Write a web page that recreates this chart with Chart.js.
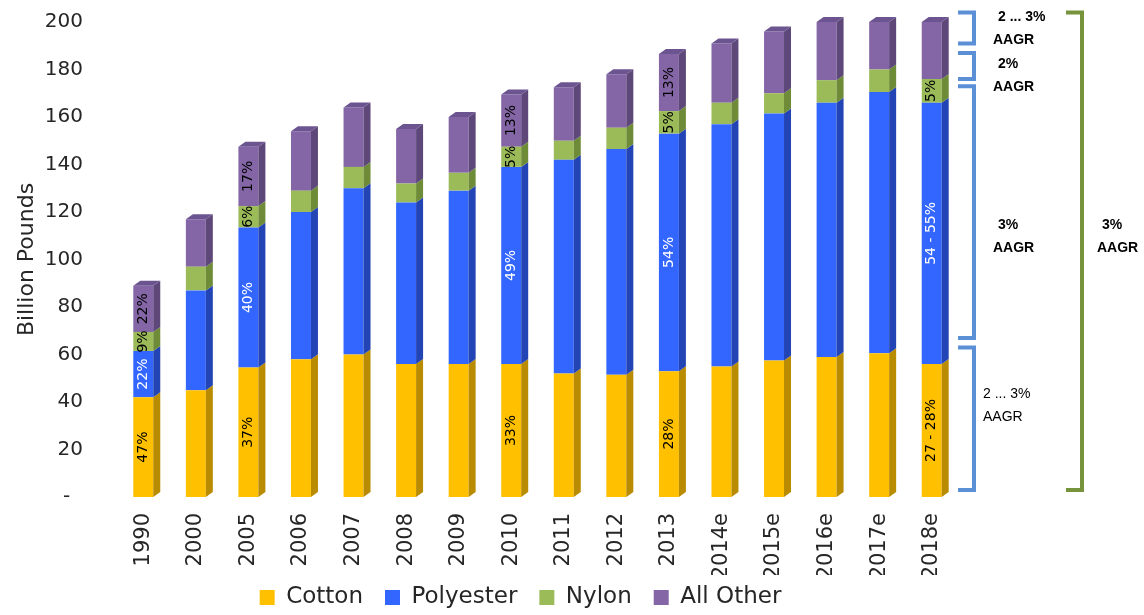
<!DOCTYPE html>
<html>
<head>
<meta charset="utf-8">
<title>Global Fiber Demand</title>
<script src="https://cdn.jsdelivr.net/npm/chart.js@4.4.1/dist/chart.umd.min.js"></script>
<style>
  html, body { margin: 0; padding: 0; background: #ffffff; }
  #wrap { width: 1144px; height: 615px; }
  canvas { display: block; }
</style>
</head>
<body>
<div id="wrap"><canvas id="fiberChart" width="1144" height="615"></canvas></div>
<script>
// Fiber demand by type, billion pounds
const years = ['1990', '2000', '2005', '2006', '2007', '2008', '2009', '2010', '2011', '2012', '2013', '2014e', '2015e', '2016e', '2017e', '2018e'];
const cotton    = [42,   45,  54.5, 58,  60,  56,  56,   56,   52,   51.5, 53,   55,  57.5, 59,   60.5, 56];
const polyester = [19.5, 42,  59,   62,  70,  68,  73,   83,   90,   95,   100,  102, 104,  107,  110,  110];
const nylon     = [8,    10,  9,    9,   9,   8,   7.5,  8.5,  8,    9,    9.5,  9,   8.5,  9.5,  9.5,  10];
const allOther  = [19.5, 20,  25,   25,  25,  23,  23.5, 22,   22.5, 22.5, 24,   25,  26,   24.5, 20,   24];

// Share labels printed inside selected bars
const cottonShare    = ['47%', '', '37%', '', '', '', '', '33%', '', '', '28%', '', '', '', '', '27 - 28%'];
const polyesterShare = ['22%', '', '40%', '', '', '', '', '49%', '', '', '54%', '', '', '', '', '54 - 55%'];
const nylonShare     = ['9%',  '', '6%',  '', '', '', '', '5%',  '', '', '5%',  '', '', '', '', '5%'];
const otherShare     = ['22%', '', '17%', '', '', '', '', '13%', '', '', '13%', '', '', '', '', ''];

// Value axis
const yTickValues = [0, 20, 40, 60, 80, 100, 120, 140, 160, 180, 200];
const zeroTickLabel = '-';

// Growth outlook brackets (billion pounds spans) and their rates
const growthSpans = [[191, 204], [176, 187], [67, 173], [3, 63]];
const growthRates = ['2 ... 3%', '2%', '3%', '2 ... 3%'];
const totalSpan = [3, 204];
const totalRate = '3%';
const rateUnit = 'AAGR';

Chart.defaults.font.family = '"DejaVu Sans", sans-serif';

// Depth faces (side + top) and in-bar share labels
const barDepth = {
  id: 'barDepth',
  afterDatasetsDraw(chart, args, opts) {
    const ctx = chart.ctx;
    const dx = opts.dx, dy = opts.dy;
    const n = chart.data.datasets.length;
    ctx.save();
    chart.data.datasets.forEach((ds, di) => {
      const meta = chart.getDatasetMeta(di);
      meta.data.forEach((el) => {
        const p = el.getProps(['x', 'y', 'base', 'width'], true);
        const l = p.x - p.width / 2, r = p.x + p.width / 2;
        ctx.fillStyle = ds.sideColor;
        ctx.beginPath();
        ctx.moveTo(r, p.y);
        ctx.lineTo(r + dx, p.y - dy);
        ctx.lineTo(r + dx, p.base - dy);
        ctx.lineTo(r, p.base);
        ctx.closePath();
        ctx.fill();
        if (di === n - 1) {
          ctx.fillStyle = ds.topColor;
          ctx.beginPath();
          ctx.moveTo(l, p.y);
          ctx.lineTo(l + dx, p.y - dy);
          ctx.lineTo(r + dx, p.y - dy);
          ctx.lineTo(r, p.y);
          ctx.closePath();
          ctx.fill();
        }
      });
    });
    // share labels, reading bottom to top
    ctx.font = opts.labelFont;
    ctx.textAlign = 'center';
    ctx.textBaseline = 'middle';
    chart.data.datasets.forEach((ds, di) => {
      const meta = chart.getDatasetMeta(di);
      meta.data.forEach((el, i) => {
        const txt = ds.shareLabels[i];
        if (!txt) return;
        const p = el.getProps(['x', 'y', 'base'], true);
        ctx.save();
        ctx.translate(p.x, (p.y + p.base) / 2);
        ctx.rotate(-Math.PI / 2);
        ctx.fillStyle = ds.shareColor;
        ctx.fillText(txt, 0, 0);
        ctx.restore();
      });
    });
    ctx.restore();
  }
};

// Bracket annotations to the right of the plot
function drawBracket(ctx, xTick, xLine, yTop, yBot, color) {
  ctx.strokeStyle = color;
  ctx.beginPath();
  ctx.moveTo(xTick, yTop);
  ctx.lineTo(xLine, yTop);
  ctx.lineTo(xLine, yBot);
  ctx.lineTo(xTick, yBot);
  ctx.stroke();
}

const growthBrackets = {
  id: 'growthBrackets',
  afterDraw(chart, args, opts) {
    const { ctx, chartArea } = chart;
    const y = chart.scales.y;
    const x0 = chartArea.right;
    ctx.save();
    ctx.lineWidth = 4;
    ctx.lineJoin = 'miter';
    growthSpans.forEach(([lo, hi]) => {
      drawBracket(ctx, x0 + opts.segTick, x0 + opts.segLine,
        y.getPixelForValue(hi), y.getPixelForValue(lo), opts.segColor);
    });
    drawBracket(ctx, x0 + opts.totalTick, x0 + opts.totalLine,
      y.getPixelForValue(totalSpan[1]), y.getPixelForValue(totalSpan[0]), opts.totalColor);

    ctx.fillStyle = opts.textColor;
    ctx.textAlign = 'left';
    ctx.textBaseline = 'middle';
    const gap = opts.lineGap;
    growthRates.forEach((rate, i) => {
      const t = opts.segText[i];
      const cy = y.getPixelForValue(t.at);
      ctx.font = t.font;
      ctx.fillText(rate, x0 + t.rateX, cy - gap / 2);
      ctx.fillText(rateUnit, x0 + t.unitX, cy + gap / 2);
    });
    const tt = opts.totalText;
    const cy = y.getPixelForValue(tt.at);
    ctx.font = tt.font;
    ctx.fillText(totalRate, x0 + tt.rateX, cy - gap / 2);
    ctx.fillText(rateUnit, x0 + tt.unitX, cy + gap / 2);
    ctx.restore();
  }
};

// Shift the legend row into place below the category labels
const legendNudge = {
  id: 'legendNudge',
  afterLayout(chart, args, opts) {
    const lg = chart.legend;
    if (!lg) return;
    lg.left += opts.dx; lg.right += opts.dx;
    lg.top += opts.dy; lg.bottom += opts.dy;
  }
};

new Chart(document.getElementById('fiberChart'), {
  type: 'bar',
  data: {
    labels: years,
    datasets: [
      { label: 'Cotton', data: cotton, backgroundColor: '#FFC000',
        sideColor: '#B98B00', topColor: '#D9A600', shareLabels: cottonShare, shareColor: '#000000' },
      { label: 'Polyester', data: polyester, backgroundColor: '#3366FF',
        sideColor: '#2344B4', topColor: '#2A55D6', shareLabels: polyesterShare, shareColor: '#FFFFFF' },
      { label: 'Nylon', data: nylon, backgroundColor: '#9BBB59',
        sideColor: '#6E8B38', topColor: '#84A346', shareLabels: nylonShare, shareColor: '#000000' },
      { label: 'All Other', data: allOther, backgroundColor: '#8466A6',
        sideColor: '#5D4879', topColor: '#6C5490', shareLabels: otherShare, shareColor: '#000000' }
    ]
  },
  options: {
    responsive: false,
    animation: false,
    devicePixelRatio: 1,
    events: [],
    layout: { padding: { top: 0, right: 186, bottom: -15, left: 0 } },
    datasets: { bar: { categoryPercentage: 1, barPercentage: 0.38, borderWidth: 0 } },
    scales: {
      x: {
        stacked: true,
        grid: { display: false, drawTicks: false },
        border: { display: false },
        ticks: { minRotation: 90, maxRotation: 90, autoSkip: false, padding: 16,
                 color: '#262626', font: { size: 21 } },
        afterFit(scale) { scale.height = 78; }
      },
      y: {
        stacked: true,
        min: 0,
        max: 200,
        grid: { display: false, drawTicks: false },
        border: { display: false },
        afterBuildTicks(scale) { scale.ticks = yTickValues.map(v => ({ value: v })); },
        ticks: {
          padding: 34,
          color: '#262626',
          font: { size: 20 },
          callback: (v) => (v === 0 ? zeroTickLabel + '  ' : String(v))
        },
        title: { display: true, text: 'Billion Pounds', color: '#262626',
                 font: { size: 22 }, padding: { top: 14, bottom: 0 } },
        afterFit(scale) {
          scale.width = 117;
          scale.paddingTop = 22;
          scale.paddingBottom = 15;
        }
      }
    },
    plugins: {
      legend: {
        position: 'bottom',
        fullSize: false,
        labels: { boxWidth: 15, boxHeight: 15, padding: 22, color: '#262626', font: { size: 23 } }
      },
      tooltip: { enabled: false },
      legendNudge: { dx: -17, dy: -11 },
      barDepth: { dx: 7, dy: 5, labelFont: '14px "DejaVu Sans"' },
      growthBrackets: {
        segColor: '#5B8FD6', totalColor: '#77933C', textColor: '#000000',
        segTick: 0, segLine: 16, totalTick: 108, totalLine: 124,
        lineGap: 23,
        segText: [
          { at: 197.3, rateX: 40, unitX: 35, font: 'bold 14px "Liberation Sans"' },
          { at: 177.3, rateX: 40, unitX: 35, font: 'bold 14px "Liberation Sans"' },
          { at: 109.7, rateX: 40, unitX: 35, font: 'bold 14px "Liberation Sans"' },
          { at: 38.3,  rateX: 25, unitX: 25, font: '14px "Liberation Sans"' }
        ],
        totalText: { at: 109.7, rateX: 144, unitX: 139, font: 'bold 14px "Liberation Sans"' }
      }
    }
  },
  plugins: [legendNudge, barDepth, growthBrackets]
});
</script>
</body>
</html>
